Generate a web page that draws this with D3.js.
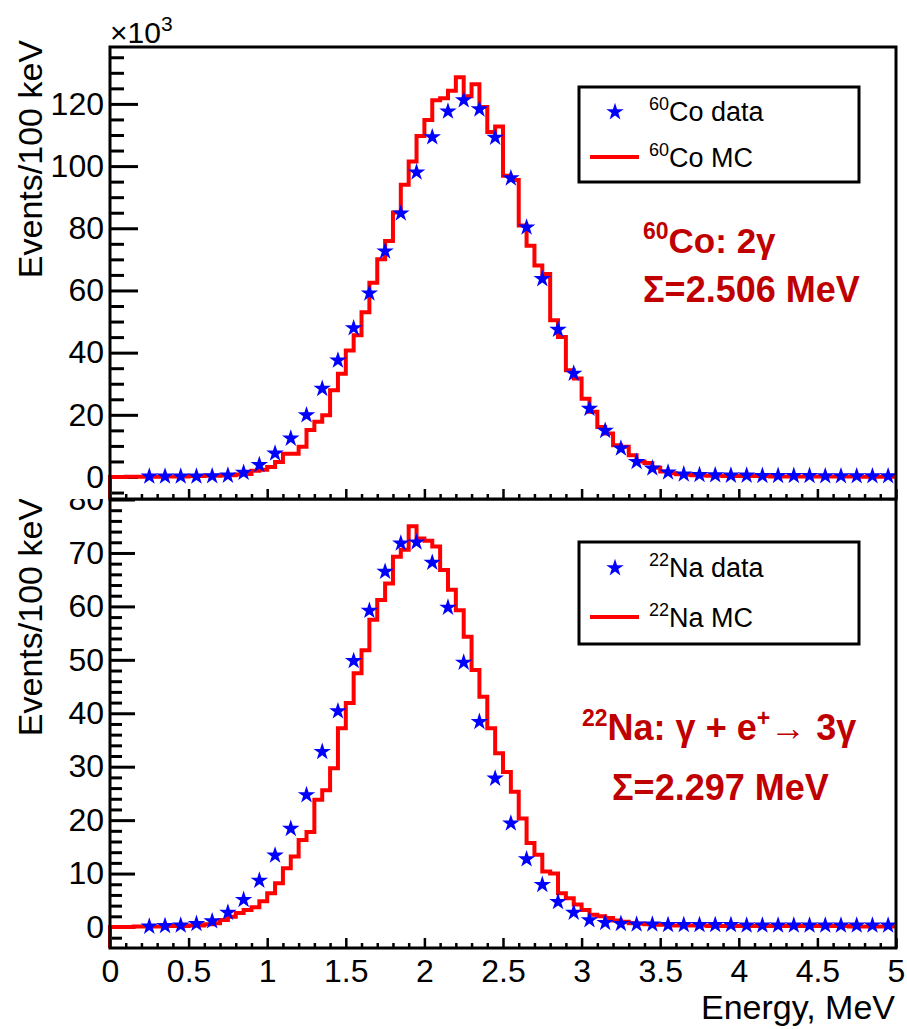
<!DOCTYPE html>
<html>
<head>
<meta charset="utf-8">
<script src="https://cdn.jsdelivr.net/npm/d3@7"></script>
<style>
  body { margin: 0; background: #fff; }
  svg { display: block; font-family: "Liberation Sans", Arial, sans-serif; }
</style>
</head>
<body>
<svg id="chart" width="907" height="1029"></svg>
<script>
// data points: bin centres in MeV, 100 keV bins
var dataEnergy = [0.25, 0.35, 0.45, 0.55, 0.65, 0.75, 0.85, 0.95,
  1.05, 1.15, 1.25, 1.35, 1.45, 1.55, 1.65, 1.75, 1.85, 1.95,
  2.05, 2.15, 2.25, 2.35, 2.45, 2.55, 2.65, 2.75, 2.85, 2.95,
  3.05, 3.15, 3.25, 3.35, 3.45, 3.55, 3.65, 3.75, 3.85, 3.95,
  4.05, 4.15, 4.25, 4.35, 4.45, 4.55, 4.65, 4.75, 4.85, 4.95];

// 60Co data, x10^3 events
var coData = [0.2, 0.2, 0.2, 0.2, 0.3, 0.5, 1.4, 3.9,
  7.6, 12.4, 19.9, 28.4, 37.5, 47.9, 59.1, 72.6, 84.8, 98.0,
  109.3, 117.6, 121.2, 118.3, 109.2, 96.1, 80.3, 63.7, 47.4, 33.3,
  22.0, 14.9, 9.2, 4.9, 2.8, 1.5, 0.9, 0.7, 0.6, 0.5,
  0.5, 0.4, 0.4, 0.4, 0.4, 0.3, 0.3, 0.3, 0.3, 0.3];

// 22Na data
var naData = [0.1, 0.2, 0.3, 0.6, 1.1, 2.7, 5.1, 8.7,
  13.4, 18.4, 24.7, 32.8, 40.4, 49.8, 59.2, 66.5, 71.8, 72.0,
  68.2, 59.8, 49.5, 38.4, 27.8, 19.4, 12.7, 7.9, 4.7, 2.7,
  1.3, 0.8, 0.6, 0.5, 0.5, 0.4, 0.4, 0.4, 0.4, 0.4,
  0.3, 0.3, 0.3, 0.3, 0.3, 0.3, 0.3, 0.3, 0.3, 0.3];

// MC histograms, 50 keV bins starting at 0 MeV
var mcBinWidth = 0.05;
var coMC = [0, 0, 0.1, 0.1, 0.1, 0.1, 0.1, 0.2, 0.2, 0.2,
  0.3, 0.3, 0.4, 0.4, 0.5, 0.6, 0.8, 1.0, 2.0, 2.3,
  3.2, 4.8, 7.5, 7.5, 9.7, 15.1, 17.8, 19.9, 27.9, 33.2,
  40.7, 45.6, 53.0, 62.5, 70.0, 75.9, 85.1, 94.0, 101.5, 109.7,
  114.8, 121.2, 121.8, 124.2, 128.6, 122.5, 126.3, 119.0, 111.0, 112.7,
  96.9, 95.5, 80.9, 74.4, 68.0, 65.3, 50.4, 45.0, 34.3, 31.7,
  25.2, 21.0, 16.1, 14.0, 10.2, 9.7, 7.0, 5.0, 4.5, 3.0,
  1.8, 1.2, 0.9, 0.7, 0.6, 0.5, 0.4, 0.4, 0.3, 0.3,
  0.3, 0.3, 0.3, 0.3, 0.2, 0.2, 0.2, 0.2, 0.2, 0.2,
  0.2, 0.2, 0.2, 0.2, 0.2, 0.1, 0.1, 0.1, 0.1, 0.1];

var naMC = [0, 0, 0, 0.1, 0.1, 0.1, 0.1, 0.2, 0.2, 0.2,
  0.3, 0.3, 0.5, 0.7, 1.3, 1.9, 2.6, 3.2, 3.7, 4.8,
  6.3, 8.2, 11.0, 13.2, 16.3, 17.8, 23.8, 25.6, 29.7, 37.2,
  41.9, 47.5, 51.8, 57.5, 61.2, 64.3, 69.3, 70.6, 75.0, 72.7,
  72.3, 71.2, 66.8, 63.1, 59.3, 54.3, 48.1, 43.1, 37.2, 32.5,
  29.0, 25.3, 20.3, 15.7, 13.5, 10.4, 10.0, 6.3, 5.4, 4.2,
  3.2, 2.3, 2.0, 1.7, 1.2, 1.0, 0.7, 0.6, 0.5, 0.4,
  0.4, 0.3, 0.3, 0.3, 0.3, 0.3, 0.2, 0.2, 0.2, 0.2,
  0.2, 0.2, 0.2, 0.2, 0.2, 0.2, 0.2, 0.2, 0.2, 0.2,
  0.2, 0.2, 0.2, 0.2, 0.1, 0.1, 0.1, 0.1, 0.1, 0.1];

var xMajor = [0, 0.5, 1, 1.5, 2, 2.5, 3, 3.5, 4, 4.5, 5];
var xTickLabels = ["0", "0.5", "1", "1.5", "2", "2.5", "3", "3.5", "4", "4.5", "5"];
var coYMajor = [0, 20, 40, 60, 80, 100, 120];
var naYMajor = [0, 10, 20, 30, 40, 50, 60, 70, 80];

var svg = d3.select('#chart');
var x = d3.scaleLinear().domain([0, 5]).range([110, 896]);
var xMinor = d3.range(0, 5.001, 0.1).filter(function (d) { return Math.abs(d * 2 - Math.round(d * 2)) > 1e-6; });

var red = '#ff0000', blue = '#0000ff', dark = '#c00000';
var starSize = 95;

function drawPanel(cfg) {
  var y = cfg.y;
  var g = svg.append('g');
  var top = y.range()[1], bottom = y.range()[0];

  // pad background (top pad hides what sticks out of the lower one)
  g.append('rect').attr('x', 0).attr('y', cfg.padTop).attr('width', 907)
    .attr('height', cfg.padBottom - cfg.padTop).attr('fill', '#fff');

  // y axis ticks, pointing inwards
  var yMinor = d3.range(cfg.minorStart, y.domain()[1], cfg.minorStep)
    .filter(function (d) { return cfg.yMajor.indexOf(d) < 0; });
  g.append('g').attr('transform', 'translate(110,0)')
    .call(d3.axisLeft(y).tickValues(yMinor).tickSize(-cfg.minorLen).tickFormat(''))
    .call(function (a) { a.select('.domain').remove(); a.selectAll('text').remove(); });
  var yAx = g.append('g').attr('transform', 'translate(110,0)')
    .call(d3.axisLeft(y).tickValues(cfg.yMajor).tickSize(-cfg.majorLen).tickPadding(6).tickFormat(d3.format('d')));
  yAx.select('.domain').remove();
  yAx.selectAll('text').attr('font-size', 32).attr('font-family', '"Liberation Sans", Arial, sans-serif').attr('fill', '#000');
  g.selectAll('.tick line').attr('stroke', '#000').attr('stroke-width', 3);

  // x axis ticks
  g.append('g').attr('transform', 'translate(0,' + bottom + ')')
    .call(d3.axisBottom(x).tickValues(xMinor).tickSize(-5).tickFormat(''))
    .call(function (a) { a.select('.domain').remove(); a.selectAll('text').remove(); a.selectAll('line').attr('stroke-width', 2.5); });
  var xAx = g.append('g').attr('transform', 'translate(0,' + bottom + ')')
    .call(d3.axisBottom(x).tickValues(xMajor).tickSize(-10).tickPadding(11)
      .tickFormat(function (d, i) { return cfg.xLabels ? xTickLabels[i] : ''; }));
  xAx.select('.domain').remove();
  xAx.selectAll('line').attr('stroke-width', 2.5);
  xAx.selectAll('text').attr('font-size', 32).attr('font-family', '"Liberation Sans", Arial, sans-serif').attr('fill', '#000');

  // MC histogram as steps
  var pts = [[0, y.domain()[0]]];
  cfg.mc.forEach(function (v, i) { pts.push([i * mcBinWidth, v]); });
  pts.push([5, cfg.mc[cfg.mc.length - 1]]);
  g.append('path').datum(pts)
    .attr('d', d3.line().x(function (d) { return x(d[0]); }).y(function (d) { return y(d[1]); }).curve(d3.curveStepAfter))
    .attr('fill', 'none').attr('stroke', red).attr('stroke-width', 4);

  // data stars
  g.selectAll('path.star').data(dataEnergy).join('path').attr('class', 'star')
    .attr('d', d3.symbol(d3.symbolStar, starSize))
    .attr('transform', function (d, i) { return 'translate(' + x(d) + ',' + y(cfg.data[i]) + ')'; })
    .attr('fill', blue);

  // frame
  g.append('rect').attr('x', 110).attr('y', top).attr('width', 786).attr('height', bottom - top)
    .attr('fill', 'none').attr('stroke', '#000').attr('stroke-width', 3);

  // y title
  g.append('text').attr('transform', 'translate(42,' + cfg.titleEnd + ') rotate(-90)')
    .attr('text-anchor', 'end').attr('font-size', 34).text('Events/100 keV');

  // legend
  var L = cfg.legend;
  g.append('rect').attr('x', 579).attr('y', L.top).attr('width', 280).attr('height', L.h)
    .attr('fill', '#fff').attr('stroke', '#000').attr('stroke-width', 3);
  g.append('path').attr('d', d3.symbol(d3.symbolStar, starSize)).attr('transform', 'translate(615,' + L.starY + ')').attr('fill', blue);
  g.append('line').attr('x1', 590).attr('x2', 639).attr('y1', L.lineY).attr('y2', L.lineY).attr('stroke', red).attr('stroke-width', 4);
  supText(g, 649, L.starY + 9, cfg.iso, cfg.el + ' data', 27, 18, 'normal', '#000');
  supText(g, 649, L.lineY + 10, cfg.iso, cfg.el + ' MC', 27, 18, 'normal', '#000');
}

function supText(g, x0, y0, sup, main, size, supSize, weight, color) {
  var t = g.append('text').attr('x', x0).attr('y', y0).attr('font-size', size)
    .attr('font-weight', weight).attr('fill', color);
  t.append('tspan').attr('font-size', supSize).attr('dy', -size * 0.4).text(sup);
  t.append('tspan').attr('dy', size * 0.4).text(main);
  return t;
}

// lower pad: 22Na
drawPanel({
  y: d3.scaleLinear().domain([-3.93, 80.1]).range([948, 499]),
  padTop: 499, padBottom: 1029,
  yMajor: naYMajor, minorStart: -2, minorStep: 2, majorLen: 25, minorLen: 12,
  mc: naMC, data: naData, xLabels: true, titleEnd: 498,
  legend: { top: 542, h: 102, starY: 568, lineY: 617 },
  iso: '22', el: 'Na'
});

// upper pad: 60Co
drawPanel({
  y: d3.scaleLinear().domain([-7.07, 138.3]).range([499, 47]),
  padTop: 0, padBottom: 499,
  yMajor: coYMajor, minorStart: -5, minorStep: 5, majorLen: 28, minorLen: 14,
  mc: coMC, data: coData, xLabels: false, titleEnd: 40,
  legend: { top: 87, h: 95, starY: 112, lineY: 157 },
  iso: '60', el: 'Co'
});

// x10^3 multiplier
var mult = svg.append('text').attr('x', 110).attr('y', 43).attr('font-size', 30);
mult.append('tspan').text('\u00d710');
mult.append('tspan').attr('font-size', 21).attr('dy', -12).text('3');

// x title
svg.append('text').attr('x', 895).attr('y', 1019).attr('text-anchor', 'end')
  .attr('font-size', 34).text('Energy, MeV');

// annotations
supText(svg, 643, 253, '60', 'Co: 2\u03b3', 35, 23, 'bold', dark);
svg.append('text').attr('x', 643).attr('y', 302).attr('font-size', 36).attr('font-weight', 'bold')
  .attr('fill', dark).text('\u03a3=2.506 MeV');

var na = svg.append('text').attr('x', 582).attr('y', 740).attr('font-size', 36)
  .attr('font-weight', 'bold').attr('fill', dark);
na.append('tspan').attr('font-size', 23).attr('dy', -14).text('22');
na.append('tspan').attr('dy', 14).text('Na: \u03b3 + e');
na.append('tspan').attr('font-size', 23).attr('dy', -14).text('+');
na.append('tspan').attr('dy', 14).text('\u2192 3\u03b3');
svg.append('text').attr('x', 612).attr('y', 800).attr('font-size', 36).attr('font-weight', 'bold')
  .attr('fill', dark).text('\u03a3=2.297 MeV');
</script>
</body>
</html>
